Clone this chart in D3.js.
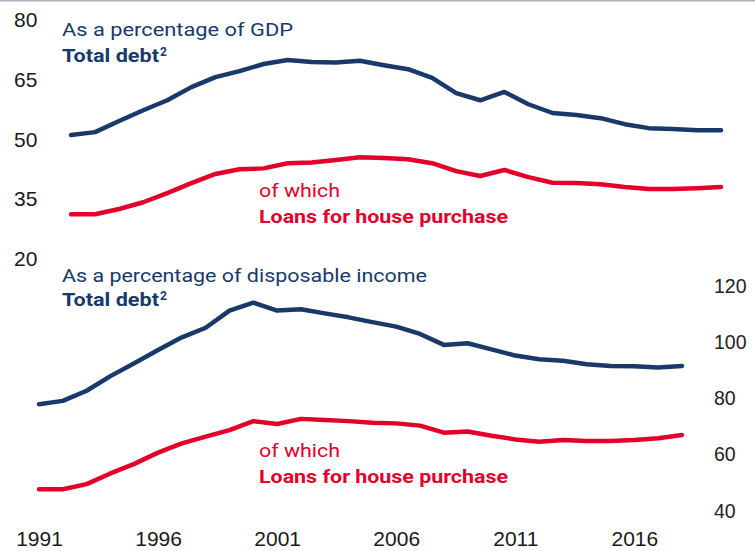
<!DOCTYPE html>
<html>
<head>
<meta charset="utf-8">
<script src="https://cdn.jsdelivr.net/npm/d3@7"></script>
<style>
  html, body { margin: 0; padding: 0; background: #fff; }
  svg { display: block; }
  .tick text { font-family: "Liberation Sans", Arial, sans-serif; font-size: 21px; fill: #1a1a1a; }
  .right .tick text { font-size: 19.5px; fill: #222; }
  .lbl { font-family: Roboto, "Noto Sans", sans-serif; font-size: 19px; }
  .b { font-weight: 700; }
</style>
</head>
<body>
<script>
const years = d3.range(1991, 2019);
const xTickLabels = [1991, 1996, 2001, 2006, 2011, 2016];
const leftTicks = [20, 35, 50, 65, 80];
const rightTicks = [40, 60, 80, 100, 120];

// As a percentage of GDP
const gdpTotal = [50.9, 51.6, 54.4, 57.1, 59.6, 62.9, 65.4, 66.9, 68.7, 69.7, 69.2, 69.1, 69.5, 68.4,
                  67.4, 65.2, 61.4, 59.6, 61.7, 58.6, 56.4, 55.9, 55.1, 53.6, 52.6, 52.4, 52.1, 52.1];
const gdpHouse = [31.0, 31.0, 32.3, 34.0, 36.3, 38.8, 41.1, 42.3, 42.5, 43.8, 44.0, 44.6, 45.3, 45.1,
                  44.8, 43.8, 41.8, 40.6, 42.1, 40.3, 38.9, 38.8, 38.5, 37.8, 37.3, 37.3, 37.5, 37.8];
// As a percentage of disposable income
const incTotal = [77.6, 78.8, 82.4, 87.6, 92.2, 96.9, 101.4, 104.8, 110.9, 113.7, 110.9, 111.4, 109.9, 108.5,
                  106.8, 105.2, 102.6, 98.7, 99.3, 97.1, 94.9, 93.6, 93.1, 91.8, 91.2, 91.1, 90.7, 91.2];
const incHouse = [47.4, 47.4, 49.2, 53.0, 56.4, 60.4, 63.7, 66.1, 68.4, 71.6, 70.6, 72.4, 72.0, 71.6,
                  71.0, 70.8, 70.0, 67.5, 67.9, 66.4, 65.1, 64.3, 64.9, 64.5, 64.5, 64.9, 65.5, 66.7];

const W = 755, H = 551;
const BLUE = "#18396a", RED = "#e3002b";

const svg = d3.select("body").append("svg").attr("width", W).attr("height", H);

svg.append("line").attr("x1", 0).attr("x2", W).attr("y1", 0.75).attr("y2", 0.75)
  .attr("stroke", "#a9b3c1").attr("stroke-width", 1.5);

const xTop = d3.scaleLinear().domain([1991, 2018]).range([71, 721]);
const xBot = d3.scaleLinear().domain([1991, 2018]).range([39, 682]);
const yTop = d3.scaleLinear().domain([20, 80]).range([258, 19]);
const yBot = d3.scaleLinear().domain([40, 120]).range([510, 285]);

// axes
const gl = svg.append("g").attr("transform", "translate(14,0)")
  .call(d3.axisLeft(yTop).tickValues(leftTicks).tickSize(0).tickPadding(0));
gl.select(".domain").remove();
gl.selectAll("text").attr("text-anchor", "start").attr("dy", "0.36em");

const gr = svg.append("g").attr("class", "right").attr("transform", "translate(714,0)")
  .call(d3.axisRight(yBot).tickValues(rightTicks).tickSize(0).tickPadding(0));
gr.select(".domain").remove();
gr.selectAll("text").attr("dy", "0.36em");

const gb = svg.append("g").attr("transform", "translate(0,546)")
  .call(d3.axisBottom(xBot).tickValues(xTickLabels).tickFormat(d3.format("d")).tickSize(0).tickPadding(0));
gb.select(".domain").remove();
gb.selectAll("text").attr("dy", "0");

function drawLine(xs, ys, vals, color) {
  const line = d3.line().x((d, i) => xs(years[i])).y(d => ys(d));
  svg.append("path").datum(vals).attr("d", line)
    .attr("fill", "none").attr("stroke", color).attr("stroke-width", 4.5)
    .attr("stroke-linejoin", "round").attr("stroke-linecap", "round");
}
drawLine(xTop, yTop, gdpTotal, BLUE);
drawLine(xTop, yTop, gdpHouse, RED);
drawLine(xBot, yBot, incTotal, BLUE);
drawLine(xBot, yBot, incHouse, RED);

function label(x, y, text, color, bold, width, sup) {
  const t = svg.append("text").attr("class", "lbl" + (bold ? " b" : "")).attr("x", x).attr("y", y)
    .attr("fill", color);
  const main = t.append("tspan").text(text);
  if (width) main.attr("textLength", width).attr("lengthAdjust", "spacingAndGlyphs");
  if (sup) t.append("tspan").attr("dx", 1).attr("dy", -6).attr("font-size", "12px").text(sup);
  return t;
}
label(62, 36, "As a percentage of GDP", BLUE, false, 231);
label(62, 62, "Total debt", BLUE, true, 97, "2");
label(259, 197, "of which", RED, false, 81);
label(259, 223, "Loans for house purchase", RED, true, 249);

label(62, 282, "As a percentage of disposable income", BLUE, false, 365);
label(62, 306, "Total debt", BLUE, true, 97, "2");
label(259, 457, "of which", RED, false, 81);
label(259, 483, "Loans for house purchase", RED, true, 249);
</script>
</body>
</html>
